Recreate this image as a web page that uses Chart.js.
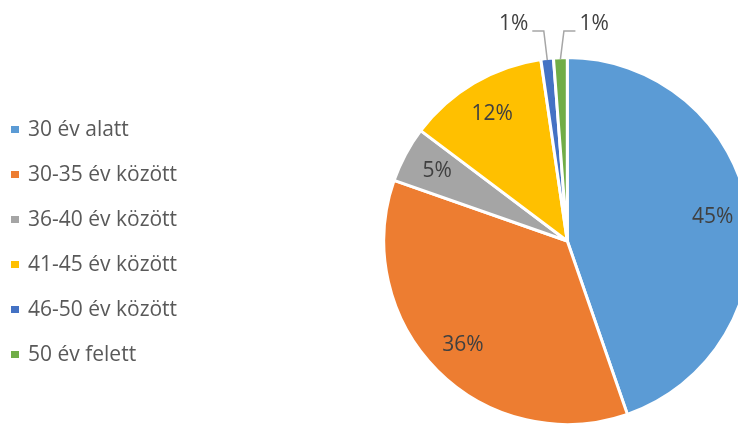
<!DOCTYPE html>
<html lang="hu">
<head>
<meta charset="utf-8">
<title>Életkor szerinti megoszlás</title>
<script src="https://cdn.jsdelivr.net/npm/chart.js@4.4.1/dist/chart.umd.min.js"></script>
<style>
  html, body { margin: 0; padding: 0; background: #fff; overflow: hidden; }
  #wrap { position: relative; width: 738px; height: 424px; }
  #pie { position: absolute; left: 0; top: 0; }
  #legend {
    position: absolute; left: 11px; top: 105.5px; margin: 0; padding: 0; list-style: none;
    font-family: "Open Sans", sans-serif; font-size: 21px; color: #595959;
  }
  #legend li { height: 45px; display: flex; align-items: center; white-space: nowrap; }
  #legend .box { width: 8px; height: 7px; margin-right: 9px; position: relative; top: 1.5px; }
</style>
</head>
<body>
<div id="wrap">
  <canvas id="pie" width="738" height="424"></canvas>
  <ul id="legend"></ul>
</div>
<script>
// age groups and their share (%)
const ageGroups = ["30 év alatt", "30-35 év között", "36-40 év között", "41-45 év között", "46-50 év között", "50 év felett"];
const shares = [44.6, 35.6, 4.9, 12.4, 1.1, 1.2];
const sliceColors = ["#5B9BD5", "#ED7D31", "#A5A5A5", "#FFC000", "#4472C4", "#70AD47"];

const pieRadius = 182;
const borderW = 3;

// percentage labels, tiny slices get an outside label with a leader line
const pctLabels = {
    id: "pctLabels",
    afterDatasetsDraw(chart) {
        const ctx = chart.ctx;
        const meta = chart.getDatasetMeta(0);
        const data = chart.data.datasets[0].data;
        const total = data.reduce((a, b) => a + b, 0);
        let side = -1;

        ctx.save();
        ctx.font = '21px "Open Sans"';
        ctx.fillStyle = "#404040";
        ctx.textBaseline = "middle";

        meta.data.forEach((arc, i) => {
            const pct = data[i] / total * 100;
            const text = Math.round(pct) + "%";
            const mid = (arc.startAngle + arc.endAngle) / 2;

            if (pct >= 3) {
                ctx.textAlign = "center";
                ctx.fillText(text, arc.x + Math.cos(mid) * pieRadius * 0.81, arc.y + Math.sin(mid) * pieRadius * 0.81);
                return;
            }

            const ex = arc.x + Math.cos(mid) * pieRadius;
            const ey = arc.y + Math.sin(mid) * pieRadius;
            const ly = arc.y - pieRadius - 28;
            const bx = ex + side * 3.5;
            const hx = bx + side * 11.5;

            ctx.strokeStyle = "#A6A6A6";
            ctx.lineWidth = 1.5;
            ctx.beginPath();
            ctx.moveTo(ex, ey);
            ctx.lineTo(bx, ly);
            ctx.lineTo(hx, ly);
            ctx.stroke();

            ctx.textAlign = side < 0 ? "right" : "left";
            ctx.fillText(text, hx + side * 4, ly - 7);
            side = -side;
        });
        ctx.restore();
    }
};

const chart = new Chart(document.getElementById("pie"), {
    type: "pie",
    data: {
        labels: ageGroups,
        datasets: [{
            data: shares,
            backgroundColor: sliceColors,
            borderColor: "#ffffff",
            borderWidth: borderW,
            radius: pieRadius + borderW / 2
        }]
    },
    options: {
        responsive: false,
        animation: false,
        layout: { padding: { left: 396.6, right: 0, top: 59, bottom: 1 } },
        plugins: {
            legend: { display: false },
            tooltip: { enabled: false }
        }
    },
    plugins: [pctLabels]
});

// legend on the left, built from the chart data
const legendList = document.getElementById("legend");
chart.data.labels.forEach((name, i) => {
    const li = document.createElement("li");
    const box = document.createElement("span");
    box.className = "box";
    box.style.background = sliceColors[i];
    li.appendChild(box);
    li.appendChild(document.createTextNode(name));
    legendList.appendChild(li);
});
</script>
</body>
</html>
